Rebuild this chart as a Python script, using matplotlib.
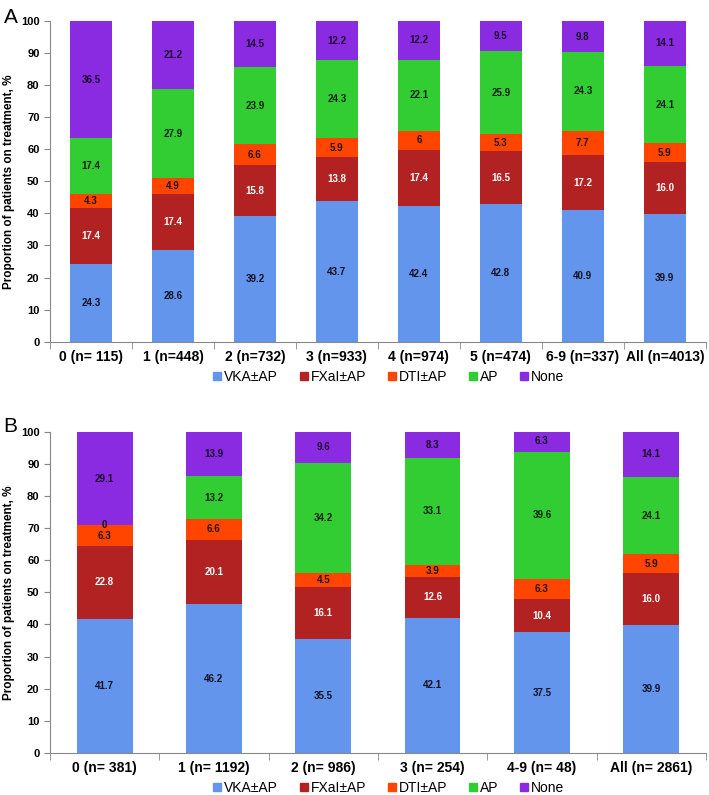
import matplotlib.pyplot as plt
from matplotlib.lines import Line2D
import numpy as np

plt.rcParams["font.family"] = ["Liberation Sans", "DejaVu Sans"]

# Panel A data
cats_a = ["0 (n= 115)", "1 (n=448)", "2 (n=732)", "3 (n=933)", "4 (n=974)",
          "5 (n=474)", "6-9 (n=337)", "All (n=4013)"]
vka_a = [24.3, 28.6, 39.2, 43.7, 42.4, 42.8, 40.9, 39.9]
fxa_a = [17.4, 17.4, 15.8, 13.8, 17.4, 16.5, 17.2, 16.0]
dti_a = [4.3, 4.9, 6.6, 5.9, 6, 5.3, 7.7, 5.9]
ap_a = [17.4, 27.9, 23.9, 24.3, 22.1, 25.9, 24.3, 24.1]
none_a = [36.5, 21.2, 14.5, 12.2, 12.2, 9.5, 9.8, 14.1]

# Panel B data
cats_b = ["0 (n= 381)", "1 (n= 1192)", "2 (n= 986)", "3 (n= 254)",
          "4-9 (n= 48)", "All (n= 2861)"]
vka_b = [41.7, 46.2, 35.5, 42.1, 37.5, 39.9]
fxa_b = [22.8, 20.1, 16.1, 12.6, 10.4, 16.0]
dti_b = [6.3, 6.6, 4.5, 3.9, 6.3, 5.9]
ap_b = [0, 13.2, 34.2, 33.1, 39.6, 24.1]
none_b = [29.1, 13.9, 9.6, 8.3, 6.3, 14.1]

series_names = ["VKA±AP", "FXaI±AP", "DTI±AP", "AP", "None"]
colors = ["#6495ED", "#B22222", "#FF4500", "#32CD32", "#8A2BE2"]
text_colors = ["#111122", "white", "#221100", "#0a200a", "#1a0a2a"]


def fmt(v):
    return str(int(v)) if v == int(v) else f"{v:.1f}"


def draw_panel(ax, cats, series, labels, width):
    x = np.arange(len(cats))
    bottom = np.zeros(len(cats))
    for vals, col, tcol, labs in zip(series, colors, text_colors, labels):
        vals = np.array(vals, dtype=float)
        ax.bar(x, vals, width, bottom=bottom, color=col, edgecolor="none")
        for xi, b, v, lab in zip(x, bottom, vals, labs):
            y = b + v / 2
            if v == 0:
                y = b + 0.2
            ax.text(xi, y, lab, ha="center", va="center", fontsize=7,
                    fontweight="bold", color=tcol if v > 0 else "#221100")
        bottom = bottom + vals
    ax.set_xlim(-0.5, len(cats) - 0.5)
    ax.set_ylim(0, 100)
    ax.set_yticks(range(0, 101, 10))
    ax.tick_params(axis="y", labelsize=8, length=4, direction="out", color="#888888")
    for t in ax.get_yticklabels():
        t.set_fontweight("bold")
    ax.set_xticks(x)
    ax.set_xticklabels(cats, fontsize=10, fontweight="bold")
    ax.tick_params(axis="x", length=0, pad=6)
    ax.set_xticks(np.arange(len(cats) + 1) - 0.5, minor=True)
    ax.tick_params(axis="x", which="minor", length=5, direction="out", color="#888888")
    ax.spines["top"].set_visible(False)
    ax.spines["right"].set_visible(False)
    ax.spines["left"].set_color("#888888")
    ax.spines["bottom"].set_color("#888888")
    ax.set_ylabel("Proportion of patients on treatment, %", fontsize=8.5,
                  fontweight="bold", labelpad=4)
    handles = [Line2D([0], [0], marker="s", linestyle="none", markersize=6,
                      markerfacecolor=c, markeredgecolor=c) for c in colors]
    ax.legend(handles, series_names, loc="center", bbox_to_anchor=(0.515, -0.11),
              ncol=5, frameon=False, fontsize=10, handletextpad=0.05,
              columnspacing=1.4, handlelength=0.9)


fig = plt.figure(figsize=(7.09, 7.95), dpi=100)
ax_a = fig.add_axes([0.0705, 0.570, 0.925, 0.404])
ax_b = fig.add_axes([0.0705, 0.053, 0.925, 0.404])

labels_a = [[fmt(v) for v in s] for s in (vka_a, fxa_a, dti_a, ap_a, none_a)]
labels_a[1][7] = "16.0"
labels_b = [[fmt(v) for v in s] for s in (vka_b, fxa_b, dti_b, ap_b, none_b)]
labels_b[1][5] = "16.0"

draw_panel(ax_a, cats_a, [vka_a, fxa_a, dti_a, ap_a, none_a], labels_a, 0.52)
draw_panel(ax_b, cats_b, [vka_b, fxa_b, dti_b, ap_b, none_b], labels_b, 0.51)

fig.text(0.005, 0.99, "A", fontsize=15, va="top")
fig.text(0.005, 0.475, "B", fontsize=15, va="top")

fig.savefig("out.png", dpi=100)
